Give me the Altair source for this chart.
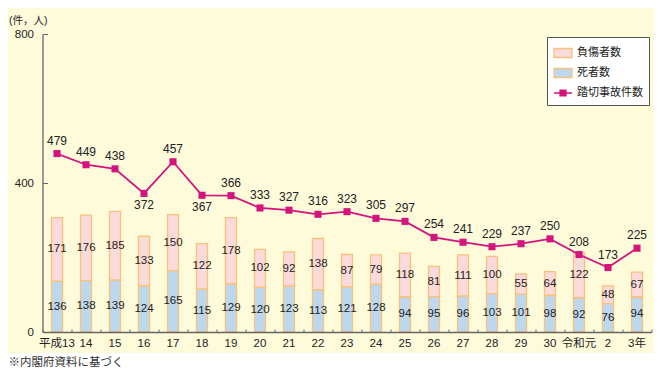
import altair as alt
import pandas as pd

years = ["平成13", "14", "15", "16", "17", "18", "19", "20", "21", "22", "23",
         "24", "25", "26", "27", "28", "29", "30", "令和元", "2", "3年"]
deaths = [136, 138, 139, 124, 165, 115, 129, 120, 123, 113, 121,
          128, 94, 95, 96, 103, 101, 98, 92, 76, 94]
injuries = [171, 176, 185, 133, 150, 122, 178, 102, 92, 138, 87,
            79, 118, 81, 111, 100, 55, 64, 122, 48, 67]
accidents = [479, 449, 438, 372, 457, 367, 366, 333, 327, 316, 323,
             305, 297, 254, 241, 229, 237, 250, 208, 173, 225]
below_label_years = ["16", "18"]

series_names = ["負傷者数", "死者数", "踏切事故件数"]
series_colors = ["#FBDADB", "#BDD7EF", "#D4137D"]
MAG = "#D4137D"
BAR_STROKE = "#F8C27C"
CREAM = "#FEFBDB"
TXT = "#222222"
AXC = "#666666"
FONT = "Liberation Sans, Noto Sans CJK JP, sans-serif"

W, H = 609, 298
PAD = {"left": 34.5, "top": 26, "right": 2.5, "bottom": 40}

rows = []
for yr, d, i in zip(years, deaths, injuries):
    rows.append({"year": yr, "series": "死者数", "v": d, "y0": 0, "y1": d, "mid": d / 2})
    rows.append({"year": yr, "series": "負傷者数", "v": i, "y0": d, "y1": d + i, "mid": d + i / 2})
bars_df = pd.DataFrame(rows)
line_df = pd.DataFrame({"year": years, "v": accidents})
line_df["below"] = line_df["year"].isin(below_label_years)
one = pd.DataFrame({"a": [0]})

xscale = alt.Scale(domain=years, paddingInner=0, paddingOuter=0)
yscale = alt.Scale(domain=[0, 800], nice=False)

main_x_axis = alt.Axis(orient="bottom", title=None, ticks=False, domainColor=AXC, domainWidth=1.3,
                       labelFont=FONT, labelFontSize=11.5, labelColor=TXT, labelPadding=5,
                       labelAngle=0, grid=False, zindex=2)
main_y_axis = alt.Axis(orient="left", values=[0, 400, 800], title="(件，人)", titleAngle=0,
                       titleX=-34, titleY=-14, titleAlign="left", titleBaseline="middle",
                       titleFont=FONT, titleFontSize=10.5, titleFontWeight="normal", titleColor=TXT,
                       ticks=False, labelPadding=9, labelFont=FONT, labelFontSize=11.5,
                       labelColor=TXT, grid=False, domainColor=AXC, domainWidth=1.3, zindex=2)
tick_x_axis = alt.Axis(orient="top", offset=-H, labels=False, domain=False, ticks=True, tickSize=3,
                       tickColor=AXC, tickBand="extent", title=None, grid=False, zindex=2)
tick_y_axis = alt.Axis(orient="right", offset=-W, values=[400, 800], labels=False, domain=False,
                       ticks=True, tickSize=5, tickColor=AXC, title=None, grid=False, zindex=2)

legend = alt.Legend(
    title=None, orient="none", legendX=504.5, legendY=3, direction="vertical",
    fillColor="white", strokeColor="#555555", padding=6,
    labelFont=FONT, labelFontSize=11, labelColor=TXT, labelOffset=4, rowPadding=2,
    symbolType=alt.ExprRef(expr="datum.value == '踏切事故件数' ? 'M-1,0H1M-0.33,-0.33H0.33V0.33H-0.33Z' : 'M-1,-0.5H1V0.5H-1Z'"),
    symbolStrokeColor=alt.ExprRef(expr="datum.value == '踏切事故件数' ? '" + MAG + "' : '" + BAR_STROKE + "'"),
    symbolStrokeWidth=1.3, symbolSize=324, zindex=3,
)

background = alt.Chart(one).mark_rect(color=CREAM).encode(
    x=alt.value(-PAD["left"]), x2=alt.value(W + PAD["right"]),
    y=alt.value(-PAD["top"]), y2=alt.value(319),
)

bar_fill = alt.Chart(bars_df).mark_bar(size=11, strokeWidth=0).encode(
    x=alt.X("year:N", scale=xscale, axis=main_x_axis),
    y=alt.Y("y0:Q", scale=yscale, axis=main_y_axis),
    y2="y1:Q",
    color=alt.Color("series:N", scale=alt.Scale(domain=series_names, range=series_colors), legend=legend),
)
bar_outline = alt.Chart(bars_df).mark_bar(size=11, filled=False, color=BAR_STROKE, strokeWidth=1.3).encode(
    x=alt.X("year:N", scale=xscale, axis=None),
    y=alt.Y("y0:Q", scale=yscale, axis=None),
    y2="y1:Q",
)
bar_text = alt.Chart(bars_df).mark_text(font=FONT, fontSize=11.5, color=TXT, baseline="middle").encode(
    x=alt.X("year:N", scale=xscale, axis=None),
    y=alt.Y("mid:Q", scale=yscale, axis=None),
    text="v:Q",
)
line = alt.Chart(line_df).mark_line(
    color=MAG, strokeWidth=1.8,
    point=alt.OverlayMarkDef(shape="square", size=50, filled=True, color=MAG),
).encode(
    x=alt.X("year:N", scale=xscale, axis=None),
    y=alt.Y("v:Q", scale=yscale, axis=None),
)
line_text_above = alt.Chart(line_df).transform_filter("!datum.below").mark_text(
    font=FONT, fontSize=12, color=TXT, baseline="middle", dy=-13).encode(
    x=alt.X("year:N", scale=xscale, axis=tick_x_axis),
    y=alt.Y("v:Q", scale=yscale, axis=tick_y_axis),
    text="v:Q",
)
line_text_below = alt.Chart(line_df).transform_filter("datum.below").mark_text(
    font=FONT, fontSize=12, color=TXT, baseline="middle", dy=12).encode(
    x=alt.X("year:N", scale=xscale, axis=None),
    y=alt.Y("v:Q", scale=yscale, axis=None),
    text="v:Q",
)
note = alt.Chart(one).mark_text(font=FONT, fontSize=11.5, color="#333333", align="left", baseline="middle").encode(
    x=alt.value(-34), y=alt.value(329), text=alt.value("※内閣府資料に基づく"),
)

chart = alt.layer(
    background, bar_fill, bar_outline, bar_text, line, line_text_above, line_text_below, note
).resolve_axis(x="independent", y="independent").properties(
    width=W, height=H, padding=PAD, autosize=alt.AutoSizeParams(type="none"), background="white",
).configure_view(stroke=None)

chart.save("out.html", embed_options={"renderer": "svg", "actions": False})
